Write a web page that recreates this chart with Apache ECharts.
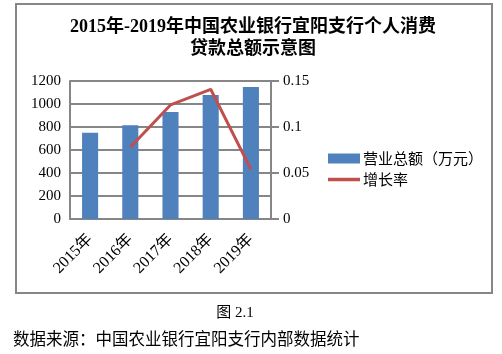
<!DOCTYPE html>
<html>
<head>
    <meta charset="utf-8">
    <script src="https://cdn.jsdelivr.net/npm/echarts@6.0.0/dist/echarts.min.js"></script>
    <style>
        html, body { margin: 0; padding: 0; background: #fff; }
    </style>
</head>
<body>
    <div id="main" style="width: 502px;height:354px;"></div>
    <script type="text/javascript">
        var myChart = echarts.init(document.getElementById('main'));

        // 数据
        var years = ['2015年', '2016年', '2017年', '2018年', '2019年'];
        var totalValues = [750, 816, 931, 1079, 1148];      // 营业总额（万元）
        var growthValues = ['-', 0.078, 0.124, 0.141, 0.054]; // 增长率
        var leftTicks = [0, 1200, 200];
        var rightTicks = [0, 0.15, 0.05];

        var serif = '"Times New Roman", "Liberation Serif", "Noto Sans CJK SC"';
        var sans = '"Noto Sans CJK SC", sans-serif';
        var gray = '#868686';

        var option = {
            animation: false,
            title: {
                text: '2015年-2019年中国农业银行宜阳支行个人消费\n贷款总额示意图',
                left: 253,
                textAlign: 'center',
                top: 16,
                padding: 0,
                textStyle: {
                    fontFamily: serif,
                    fontWeight: 'bold',
                    fontSize: 18,
                    lineHeight: 22,
                    color: '#000'
                }
            },
            legend: {
                orient: 'vertical',
                left: 328,
                top: 151,
                padding: 0,
                itemWidth: 32,
                itemHeight: 10,
                itemGap: 6,
                textStyle: {
                    fontFamily: sans,
                    fontSize: 15,
                    color: '#000',
                    padding: [0, 0, 0, -2]
                },
                data: [
                    { name: '营业总额（万元）', icon: 'rect' },
                    // 图例里只画一条线
                    { name: '增长率', icon: 'path://M0,0L32,0L32,3.5L0,3.5Z' }
                ]
            },
            grid: {
                left: 70,
                right: 231,
                top: 81,
                bottom: 135
            },
            xAxis: {
                type: 'category',
                data: years,
                axisLine: { lineStyle: { color: gray, width: 2 } },
                axisTick: { show: false },
                axisLabel: {
                    rotate: 45,
                    margin: 18,
                    fontFamily: serif,
                    fontSize: 16,
                    color: '#000'
                }
            },
            yAxis: [
                {
                    type: 'value',
                    min: leftTicks[0],
                    max: leftTicks[1],
                    interval: leftTicks[2],
                    axisLine: { show: true, lineStyle: { color: gray, width: 2 } },
                    axisTick: { show: false },
                    splitLine: { lineStyle: { color: gray, width: 2 } },
                    axisLabel: {
                        margin: 9,
                        fontFamily: serif,
                        fontSize: 15,
                        color: '#000',
                        formatter: function (v) { return String(v); }
                    }
                },
                {
                    type: 'value',
                    position: 'right',
                    min: rightTicks[0],
                    max: rightTicks[1],
                    interval: rightTicks[2],
                    axisLine: { show: true, lineStyle: { color: gray, width: 2 } },
                    axisTick: { show: true, length: 8, lineStyle: { color: gray, width: 2 } },
                    splitLine: { show: false },
                    axisLabel: {
                        margin: 12,
                        fontFamily: serif,
                        fontSize: 15,
                        color: '#000',
                        formatter: function (v) { return String(+v.toFixed(2)); }
                    }
                }
            ],
            series: [
                {
                    name: '营业总额（万元）',
                    type: 'bar',
                    yAxisIndex: 0,
                    data: totalValues,
                    barWidth: '40%',
                    itemStyle: { color: '#4f81bd' }
                },
                {
                    name: '增长率',
                    type: 'line',
                    yAxisIndex: 1,
                    data: growthValues,
                    symbol: 'none',
                    lineStyle: { color: '#c0504d', width: 3 },
                    itemStyle: { color: '#c0504d' }
                }
            ],
            graphic: [
                {
                    type: 'rect',
                    shape: { x: 16, y: 4, width: 476, height: 289 },
                    style: { fill: 'none', stroke: gray, lineWidth: 2 },
                    silent: true
                },
                {
                    type: 'text',
                    x: 235,
                    y: 313,
                    style: {
                        text: '图 2.1',
                        font: '15px ' + serif,
                        fill: '#000',
                        align: 'center',
                        verticalAlign: 'middle'
                    }
                },
                {
                    type: 'text',
                    x: 13,
                    y: 339,
                    style: {
                        text: '数据来源：中国农业银行宜阳支行内部数据统计',
                        font: '16.5px ' + sans,
                        fill: '#000',
                        align: 'left',
                        verticalAlign: 'middle'
                    }
                }
            ]
        };

        myChart.setOption(option);
    </script>
</body>
</html>
